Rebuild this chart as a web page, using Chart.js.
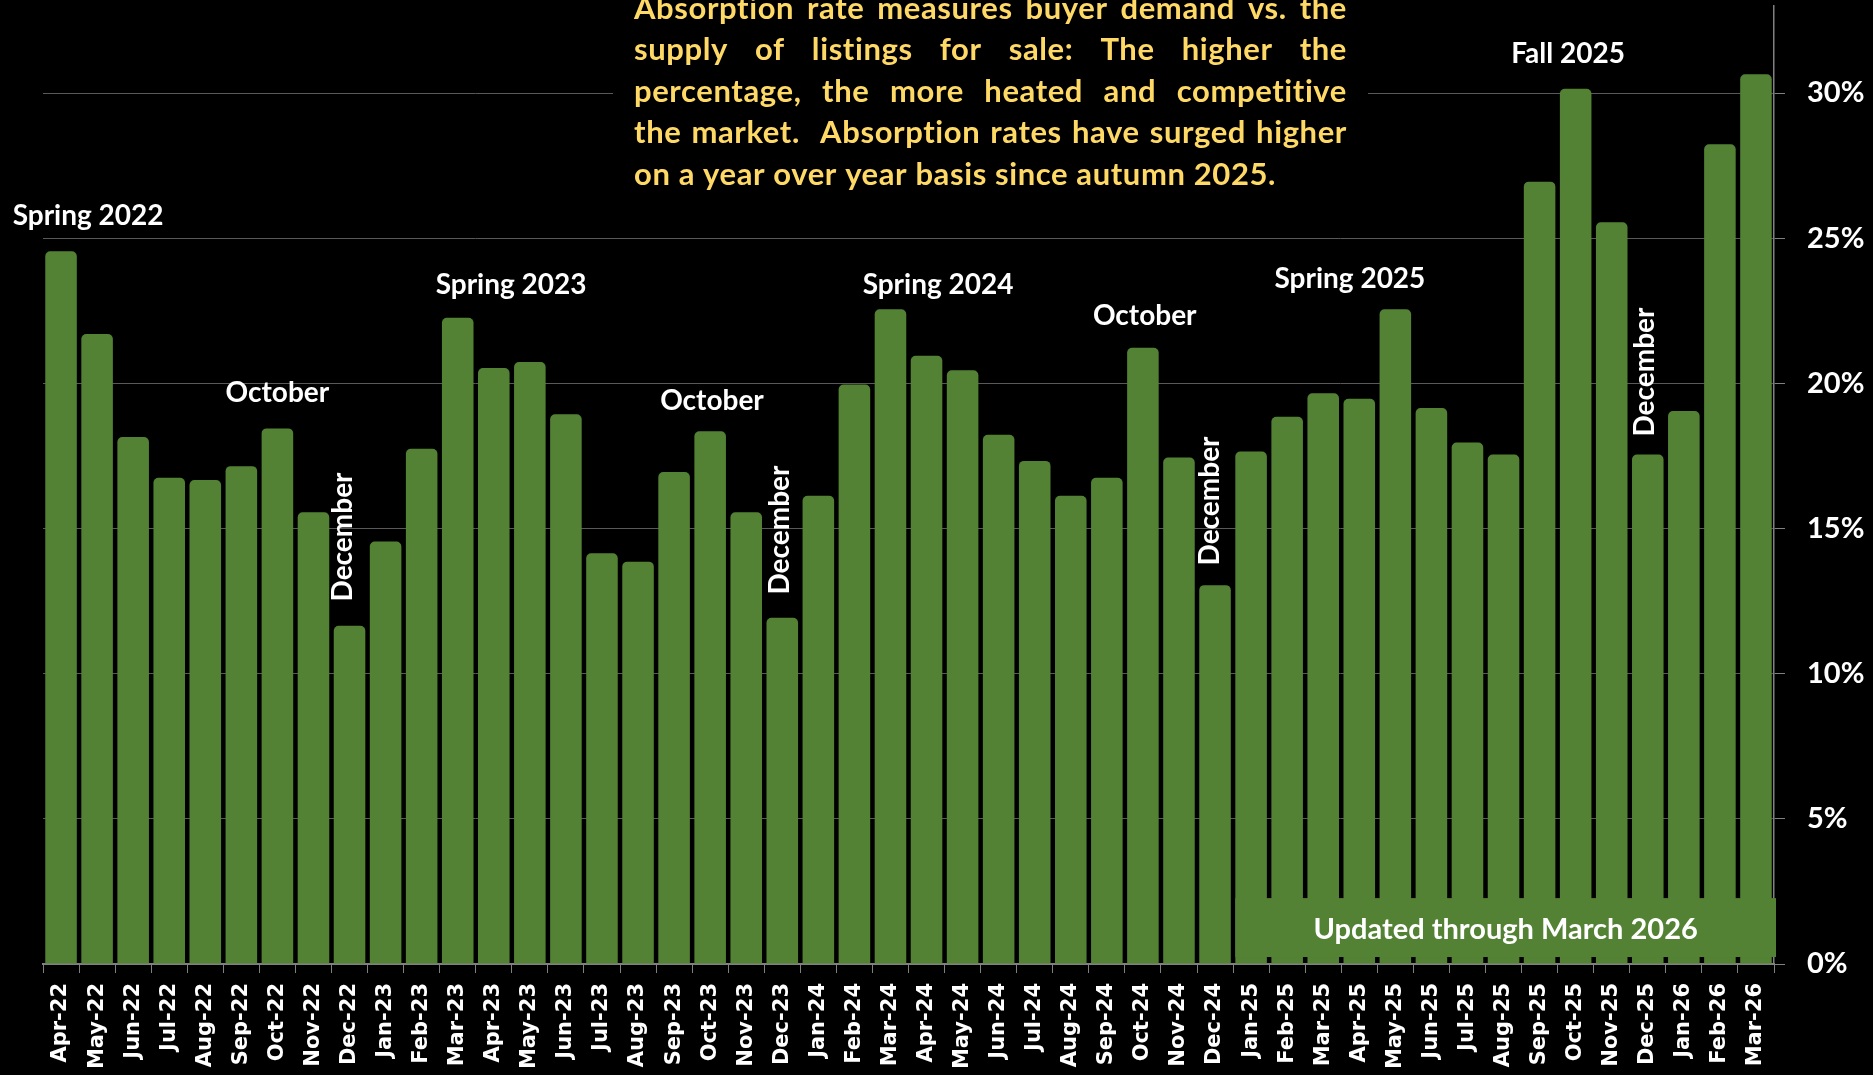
<!DOCTYPE html>
<html>
<head>
<meta charset="utf-8">
<title>Absorption rate</title>
<script src="https://cdn.jsdelivr.net/npm/chart.js@4.4.1/dist/chart.umd.min.js"></script>
<style>
  html, body { margin: 0; padding: 0; background: #000; }
  #chart-container { width: 1873px; height: 1075px; }
</style>
</head>
<body>
<div id="chart-container"><canvas id="absorptionChart" width="1873" height="1075"></canvas></div>
<script>
const months = [
  'Apr-22', 'May-22', 'Jun-22', 'Jul-22', 'Aug-22', 'Sep-22', 'Oct-22', 'Nov-22', 'Dec-22',
  'Jan-23', 'Feb-23', 'Mar-23', 'Apr-23', 'May-23', 'Jun-23', 'Jul-23', 'Aug-23', 'Sep-23', 'Oct-23', 'Nov-23', 'Dec-23',
  'Jan-24', 'Feb-24', 'Mar-24', 'Apr-24', 'May-24', 'Jun-24', 'Jul-24', 'Aug-24', 'Sep-24', 'Oct-24', 'Nov-24', 'Dec-24',
  'Jan-25', 'Feb-25', 'Mar-25', 'Apr-25', 'May-25', 'Jun-25', 'Jul-25', 'Aug-25', 'Sep-25', 'Oct-25', 'Nov-25', 'Dec-25',
  'Jan-26', 'Feb-26', 'Mar-26'
];

// absorption rate, percent
const absorptionRate = [
  24.55, 21.7, 18.15, 16.75, 16.67, 17.15, 18.45, 15.56, 11.65,
  14.55, 17.75, 22.26, 20.53, 20.74, 18.94, 14.15, 13.86, 16.95, 18.35, 15.56, 11.93,
  16.13, 19.96, 22.55, 20.95, 20.45, 18.23, 17.33, 16.13, 16.75, 21.23, 17.45, 13.05,
  17.65, 18.85, 19.66, 19.47, 22.55, 19.15, 17.96, 17.55, 26.95, 30.15, 25.55, 17.55,
  19.05, 28.24, 30.65
];

const yTickValues = [0, 5, 10, 15, 20, 25, 30];

const noteLines = [
  'Absorption rate measures buyer demand vs. the',
  'supply of listings for sale: The higher the',
  'percentage, the more heated and competitive',
  'the market.  Absorption rates have surged higher',
  'on a year over year basis since autumn 2025.'
];

// period callouts: text, category position, baseline level (%)
const periodText = ['Spring 2022', 'October', 'Spring 2023', 'October', 'Spring 2024', 'October', 'Spring 2025', 'Fall 2025'];
const periodAt = [0.75, 6, 12.48, 18.05, 24.32, 30.05, 35.74, 41.79];
const periodLevel = [25.46, 19.36, 23.08, 19.08, 23.08, 22.01, 23.29, 31.05];

// rotated "December" callouts
const decemberAt = [7.82, 19.94, 31.86, 43.93];
const decemberLevel = [14.71, 14.95, 15.95, 20.39];

const updatedText = 'Updated through March 2026';
const updatedFrom = 'Jan-25';
const updatedLevels = [0.24, 2.27];

const overlayPlugin = {
  id: 'overlay',
  afterDatasetsDraw(chart) {
    const { ctx, chartArea } = chart;
    const x = chart.scales.x;
    const y = chart.scales.y;
    ctx.save();

    // note box
    ctx.fillStyle = '#000';
    ctx.fillRect(613, 0, 755, 195);
    ctx.font = 'bold 31px Lato';
    ctx.letterSpacing = '0.6px';
    ctx.fillStyle = '#FFD966';
    ctx.textBaseline = 'alphabetic';
    ctx.textAlign = 'left';
    const noteLeft = 634, noteWidth = 713;
    noteLines.forEach((line, i) => {
      const base = 18.5 + i * 41.6;
      if (i === noteLines.length - 1) {
        ctx.fillText(line, noteLeft, base);
        return;
      }
      const words = line.split(' ');
      const wordsW = words.reduce((s, w) => s + ctx.measureText(w).width, 0);
      const gap = (noteWidth - wordsW) / (words.length - 1);
      let cx = noteLeft;
      words.forEach(w => {
        ctx.fillText(w, cx, base);
        cx += ctx.measureText(w).width + gap;
      });
    });
    ctx.letterSpacing = '0px';

    // period callouts
    ctx.font = 'bold 28px Lato';
    ctx.fillStyle = '#fff';
    ctx.textAlign = 'center';
    periodText.forEach((t, i) => {
      ctx.fillText(t, x.getPixelForValue(periodAt[i]), y.getPixelForValue(periodLevel[i]));
    });

    // December callouts
    ctx.textBaseline = 'middle';
    decemberAt.forEach((pos, i) => {
      ctx.save();
      ctx.translate(x.getPixelForValue(pos), y.getPixelForValue(decemberLevel[i]));
      ctx.rotate(-Math.PI / 2);
      ctx.fillText('December', 0, 0);
      ctx.restore();
    });

    // updated box
    const meta = chart.getDatasetMeta(0);
    const bar = meta.data[months.indexOf(updatedFrom)];
    const left = bar.x - bar.width / 2;
    const right = chartArea.right + 2;
    const top = y.getPixelForValue(updatedLevels[1]);
    const bottom = y.getPixelForValue(updatedLevels[0]);
    ctx.fillStyle = '#548235';
    ctx.fillRect(left, top, right - left, bottom - top);
    ctx.font = 'bold 29px Lato';
    ctx.fillStyle = '#fff';
    ctx.fillText(updatedText, (left + right) / 2, (top + bottom) / 2 + 2);

    ctx.restore();
  }
};

new Chart(document.getElementById('absorptionChart'), {
  type: 'bar',
  data: {
    labels: months,
    datasets: [{
      data: absorptionRate,
      backgroundColor: '#548235',
      borderRadius: { topLeft: 5, topRight: 5, bottomLeft: 0, bottomRight: 0 },
      borderSkipped: 'start',
      barPercentage: 0.875,
      categoryPercentage: 1.0
    }]
  },
  options: {
    responsive: false,
    animation: false,
    devicePixelRatio: 1,
    layout: { padding: { left: 43, top: 6, right: 0, bottom: 0 } },
    plugins: {
      legend: { display: false },
      tooltip: { enabled: false }
    },
    scales: {
      x: {
        grid: { display: true, drawOnChartArea: false, drawTicks: true, tickLength: 9, color: '#808080', offset: true },
        border: { color: '#808080', width: 2 },
        ticks: {
          autoSkip: false,
          minRotation: 90,
          maxRotation: 90,
          padding: 10,
          color: '#fff',
          font: { family: 'DejaVu Sans', size: 21, weight: 'bold' }
        },
        afterFit: s => { s.height = 111; s.paddingLeft = 0; s.paddingRight = 0; }
      },
      y: {
        position: 'right',
        min: 0,
        max: 33,
        afterBuildTicks: s => { s.ticks = yTickValues.map(v => ({ value: v })); },
        grid: { color: '#595959', tickColor: '#808080', tickLength: 11, drawTicks: true },
        border: { color: '#808080', width: 1.5 },
        ticks: {
          padding: 22,
          color: '#fff',
          font: { family: 'Lato', size: 29, weight: 'bold' },
          callback: v => v + '%'
        },
        afterFit: s => { s.width = 99; s.paddingTop = 0; s.paddingBottom = 0; }
      }
    }
  },
  plugins: [overlayPlugin]
});
</script>
</body>
</html>
